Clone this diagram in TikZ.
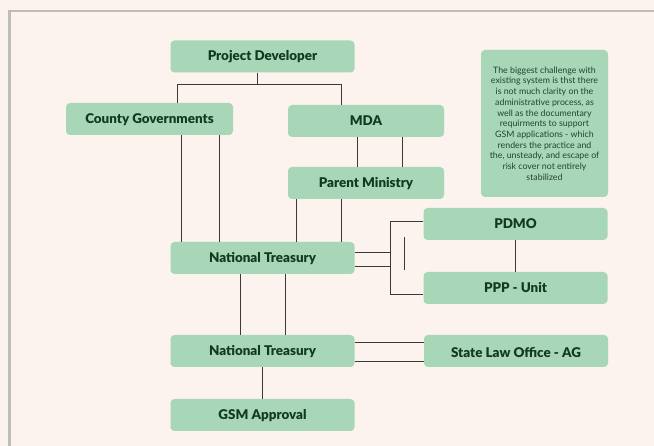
\documentclass[tikz,border=0pt]{standalone}
\usepackage{fontspec}
\setmainfont{Lato}
\newfontfamily\heavyfont{Lato Black}
\usetikzlibrary{positioning}
\definecolor{bgcream}{HTML}{FCF2EE}
\definecolor{boxgreen}{HTML}{A8D7B8}
\definecolor{txtgreen}{HTML}{123A1C}
\definecolor{framegray}{HTML}{BDBDBD}
\definecolor{linegray}{HTML}{3A3A3A}
\begin{document}
\begin{tikzpicture}[x=1pt,y=-1pt,
  box/.style={fill=boxgreen,rounded corners=4pt,text=txtgreen,font=\heavyfont\fontsize{13.4}{15}\selectfont,minimum height=32pt,inner sep=0pt,text height=10pt,text depth=1pt},
  wide/.style={box,minimum width=184pt},
  narrow/.style={box,minimum width=156pt},
  notebox/.style={fill=boxgreen,rounded corners=4pt,text=txtgreen!85!gray,font=\fontsize{8.8}{10.7}\selectfont,minimum width=127pt,minimum height=147pt,align=center,inner sep=0pt},
  link/.style={draw=linegray,line width=0.9pt}]
\useasboundingbox (0,0) rectangle (654,446);
\clip (0,0) rectangle (654,446);
\fill[bgcream] (0,0) rectangle (654,446);
\draw[framegray,line width=2.5pt] (9.5,11) rectangle (700,500);

% boxes
\node[wide] (pd) at (262.5,56.5) {Project Developer};
\node[box,minimum width=167pt] (cg) at (149.5,119) {County Governments};
\node[narrow] (mda) at (366,121) {MDA};
\node[narrow] (pm) at (366,183) {Parent Ministry};
\node[wide] (nta) at (262.5,258) {National Treasury};
\node[wide] (pdmo) at (515.5,224) {PDMO};
\node[wide] (ppp) at (515.5,288) {PPP - Unit};
\node[wide] (ntb) at (262.5,351) {National Treasury};
\node[wide] (slo) at (516,351) {\raisebox{-2pt}{State Law Office - AG}};
\node[wide] (gsm) at (262.5,415) {GSM Approval};
\node[notebox] (note) at (544.5,123.5) {The biggest challenge with\\ existing system is thst there\\ is not much clarity on the\\ administrative process, as\\ well as the documentary\\ requirments to support\\ GSM applications - which\\ renders the practice and\\ the, unsteady, and escape of\\ risk cover not entirely\\ stabilized};

% developer split
\draw[link] ([xshift=-5.5]pd.south) -- ++(0,12) coordinate (split);
\draw[link] ([xshift=27.5]cg.north) |- (split) -| ([xshift=-25]mda.north);

% county governments -- treasury
\draw[link] ([xshift=31.5]cg.south) -- ([xshift=31.5]cg.south |- nta.north);
\draw[link] ([xshift=69.5]cg.south) -- ([xshift=69.5]cg.south |- nta.north);

% mda -- parent ministry
\draw[link] ([xshift=-9]mda.south) -- ([xshift=-9]mda.south |- pm.north);
\draw[link] ([xshift=36]mda.south) -- ([xshift=36]mda.south |- pm.north);

% parent ministry -- treasury
\draw[link] ([xshift=-70]pm.south) -- ([xshift=-70]pm.south |- nta.north);
\draw[link] ([xshift=-25]pm.south) -- ([xshift=-25]pm.south |- nta.north);

% treasury -- pdmo / ppp
\coordinate (brk) at ([xshift=-33]pdmo.west);
\draw[link] ([yshift=3]pdmo.west) -- ([yshift=3]pdmo.west -| brk) |- ([yshift=-6]ppp.west);
\draw[link] ([yshift=6]nta.east) -- ([yshift=6]nta.east -| brk);
\draw[link] ([yshift=-8]nta.east) -- ([yshift=-8]nta.east -| brk);
\draw[link] ([xshift=-19,yshift=-13]pdmo.west) -- ([xshift=-19,yshift=18]ppp.west);
\draw[link] (pdmo.south) -- (ppp.north);

% treasury -- treasury
\draw[link] ([xshift=-22.5]nta.south) -- ([xshift=-22.5]ntb.north);
\draw[link] ([xshift=22.5]nta.south) -- ([xshift=22.5]ntb.north);

% treasury -- state law office
\draw[link] ([yshift=9]ntb.east) -- ([yshift=9]ntb.east -| slo.west);
\draw[link] ([yshift=-10]ntb.east) -- ([yshift=-10]ntb.east -| slo.west);

% treasury -- approval
\draw[link] (ntb.south) -- (gsm.north);
\end{tikzpicture}
\end{document}
